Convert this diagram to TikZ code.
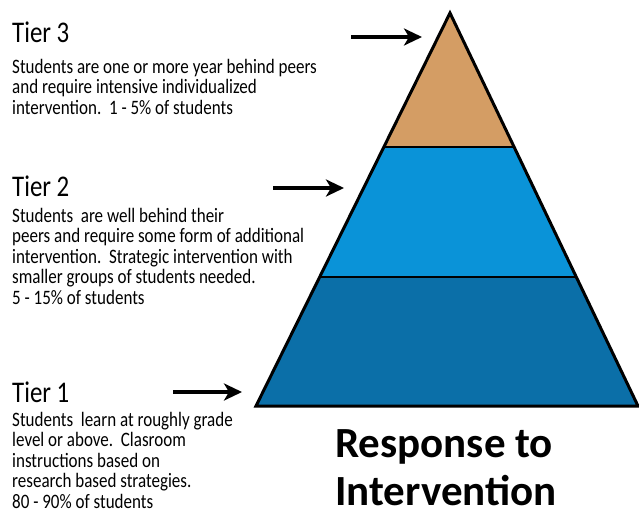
\documentclass[tikz,border=0pt]{standalone}
\usepackage{fontspec}
\setmainfont{Carlito}
\newfontfamily\tierfont{Carlito}[FakeStretch=0.83]
\usepackage{tikz}
\usetikzlibrary{arrows.meta, calc, positioning}
\usepackage{xcolor}
\definecolor{tiertan}{RGB}{212,157,100}
\definecolor{tierblue}{RGB}{10,147,216}
\definecolor{tierdark}{RGB}{11,111,168}

\begin{document}
\begin{tikzpicture}[x=1pt,y=-1pt,node distance=15pt]
  \tikzstyle{tier title}=[font=\tierfont\fontsize{30}{34}\selectfont, inner sep=0pt, anchor=base west]
  \tikzstyle{tier text}=[font=\tierfont\fontsize{20.5}{20.5}\selectfont, align=left, inner sep=0pt]
  \tikzstyle{pointer}=[-{Stealth[length=18pt,width=17pt,inset=5pt]}, line width=3.5pt]
  \tikzstyle{level}=[line width=3pt, line join=miter]
  \tikzstyle{split}=[line width=2.5pt]

  \useasboundingbox (0,0) rectangle (639,527);

  % pyramid corners
  \coordinate (top)        at (450,13);
  \coordinate (base left)  at (256,406);
  \coordinate (base right) at (638,406);
  \coordinate (t3 left)  at ($(top)!0.341!(base left)$);
  \coordinate (t3 right) at ($(top)!0.341!(base right)$);
  \coordinate (t2 left)  at ($(top)!0.672!(base left)$);
  \coordinate (t2 right) at ($(top)!0.672!(base right)$);

  \fill[tiertan]  (top) -- (t3 left) -- (t3 right) -- cycle;
  \fill[tierblue] (t3 left) -- (t2 left) -- (t2 right) -- (t3 right) -- cycle;
  \fill[tierdark] (t2 left) -- (base left) -- (base right) -- (t2 right) -- cycle;
  \draw[split] (t3 left) -- (t3 right);
  \draw[split] (t2 left) -- (t2 right);
  \draw[level] (top) -- (base left) -- (base right) -- cycle;

  % tier labels
  \node[tier title] (t3) at (12,42) {Tier 3};
  \node[tier text, below=17pt of t3.base west, anchor=north west] (t3 text)
    {Students are one or more year behind peers\\
     and require intensive individualized\\
     intervention.\ \ 1 - 5\% of students};

  \node[tier title] (t2) at (12,196) {Tier 2};
  \node[tier text, below=12pt of t2.base west, anchor=north west] (t2 text)
    {Students\ \ are well behind their\\
     peers and require some form of additional\\
     intervention.\ \ Strategic intervention with\\
     smaller groups of students needed.\\
     5 - 15\% of students};

  \node[tier title] (t1) at (12,402) {Tier 1};
  \node[tier text, below=10pt of t1.base west, anchor=north west] (t1 text)
    {Students\ \ learn at roughly grade\\
     level or above.\ \ Clasroom\\
     instructions based on\\
     research based strategies.\\
     80 - 90\% of students};

  % arrows
  \coordinate (a3 tail) at (351,37);
  \coordinate (a3 head) at (422,37);
  \coordinate (a2 tail) at (273,188);
  \coordinate (a2 head) at (344,188);
  \coordinate (a1 tail) at (173,392);
  \coordinate (a1 head) at (242,392);
  \draw[pointer] (a3 tail) -- (a3 head);
  \draw[pointer] (a2 tail) -- (a2 head);
  \draw[pointer] (a1 tail) -- (a1 head);

  \node[font=\fontsize{43}{48}\selectfont\bfseries, align=left, inner sep=0pt,
        anchor=north west] (rti) at (335,429) {Response to\\Intervention};
\end{tikzpicture}
\end{document}
